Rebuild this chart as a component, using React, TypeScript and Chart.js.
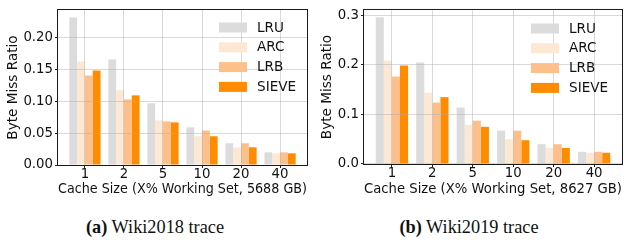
import React, { useEffect, useRef } from "react";
import { Chart, registerables } from "chart.js";

Chart.register(...registerables);

// ---------- data ----------
const cacheSizes = ["1", "2", "5", "10", "20", "40"];
const algorithms = ["LRU", "ARC", "LRB", "SIEVE"];
const algorithmColors = ["#dcdcdc", "#fde8d4", "#fdc08a", "#ff8c00"];

const wiki2018LRU = [0.231, 0.165, 0.0965, 0.059, 0.034, 0.0198];
const wiki2018ARC = [0.162, 0.117, 0.0698, 0.045, 0.0277, 0.0183];
const wiki2018LRB = [0.14, 0.1027, 0.0683, 0.054, 0.034, 0.0198];
const wiki2018SIEVE = [0.148, 0.109, 0.0667, 0.045, 0.0277, 0.0183];

const wiki2019LRU = [0.296, 0.205, 0.114, 0.0673, 0.04, 0.0246];
const wiki2019ARC = [0.209, 0.1436, 0.079, 0.05, 0.0324, 0.0227];
const wiki2019LRB = [0.1766, 0.124, 0.0874, 0.0673, 0.04, 0.0246];
const wiki2019SIEVE = [0.199, 0.135, 0.075, 0.048, 0.0324, 0.0227];

const wiki2018XTitle = "Cache Size (X% Working Set, 5688 GB)";
const wiki2019XTitle = "Cache Size (X% Working Set, 8627 GB)";
const yTitle = "Byte Miss Ratio";
const wiki2018YStep = 0.05;
const wiki2019YStep = 0.1;

const FONT = "'DejaVu Sans', 'Noto Sans', sans-serif";
const TEXT = "#111111";

// ---------- plugins ----------
const framePlugin = {
  id: "axesFrame",
  afterDraw(chart: any) {
    const { ctx, chartArea } = chart;
    ctx.save();
    ctx.strokeStyle = "#1a1a1a";
    ctx.lineWidth = 1;
    ctx.strokeRect(
      chartArea.left - 0.5,
      chartArea.top - 0.5,
      chartArea.right - chartArea.left + 1,
      chartArea.bottom - chartArea.top + 1
    );
    ctx.restore();
  },
};

const insideLegendPlugin = {
  id: "insideLegend",
  afterDraw(chart: any, _args: any, opts: any) {
    const { ctx, chartArea } = chart;
    const x0 = chartArea.right - opts.dx;
    let y = chartArea.top + opts.dy;
    ctx.save();
    ctx.font = `13.6px ${FONT}`;
    ctx.textBaseline = "middle";
    ctx.textAlign = "left";
    chart.data.datasets.forEach((ds: any) => {
      ctx.fillStyle = ds.backgroundColor;
      ctx.fillRect(x0, y - 5, 28, 10);
      ctx.fillStyle = TEXT;
      ctx.fillText(ds.label, x0 + 38, y + 0.5);
      y += 19.8;
    });
    ctx.restore();
  },
};

type Panel = {
  series: number[][];
  xTitle: string;
  yStep: number;
  yDecimals: number;
  padding: { top: number; right: number; left: number; bottom: number };
  yWidth: number;
  xHeight: number;
  yTitlePad: number;
  legendDx: number;
  legendDy: number;
};

function BarPanel({ panel }: { panel: Panel }) {
  const ref = useRef<HTMLCanvasElement | null>(null);

  useEffect(() => {
    if (!ref.current) return;
    const allValues = panel.series.flat();
    const yMax = Math.max(...allValues) * 1.05;
    const datasets = panel.series.map((vals, k) => ({
      label: algorithms[k],
      data: vals.map((v, i) => ({ x: i, y: v })),
      backgroundColor: algorithmColors[k],
      borderWidth: 0,
      categoryPercentage: 0.8,
      barPercentage: 1.0,
    }));
    const chart = new Chart(ref.current, {
      type: "bar",
      data: { datasets },
      plugins: [insideLegendPlugin, framePlugin],
      options: {
        animation: false,
        responsive: false,
        events: [],
        layout: { padding: panel.padding },
        plugins: {
          legend: { display: false },
          tooltip: { enabled: false },
          insideLegend: { dx: panel.legendDx, dy: panel.legendDy },
        } as any,
        scales: {
          x: {
            type: "linear",
            min: -0.69,
            max: cacheSizes.length - 1 + 0.69,
            offset: false,
            afterBuildTicks: (scale: any) => {
              scale.ticks = cacheSizes.map((_, i) => ({ value: i }));
            },
            afterFit: (scale: any) => {
              scale.height = panel.xHeight;
            },
            grid: {
              offset: false,
              z: 1,
              color: "rgba(170,170,170,0.45)",
              lineWidth: 1,
              tickColor: "#222",
              tickLength: 3,
              drawTicks: true,
            },
            border: { display: false },
            ticks: {
              autoSkip: false,
              maxRotation: 0,
              padding: -1,
              color: TEXT,
              font: { family: FONT, size: 13.3, lineHeight: 1.2 },
              callback: (v: any) => cacheSizes[Math.round(Number(v))] ?? "",
            },
            title: {
              display: true,
              text: panel.xTitle,
              color: TEXT,
              font: { family: FONT, size: 13.6, lineHeight: 1.2 },
              padding: { top: 0, bottom: 2.5 },
            },
          },
          y: {
            type: "linear",
            min: 0,
            max: yMax,
            afterFit: (scale: any) => {
              scale.width = panel.yWidth;
            },
            grid: {
              z: 1,
              color: "rgba(170,170,170,0.45)",
              lineWidth: 1,
              tickColor: "#222",
              tickLength: 3,
              drawTicks: true,
            },
            border: { display: false },
            ticks: {
              stepSize: panel.yStep,
              includeBounds: false,
              padding: 2,
              color: TEXT,
              font: { family: FONT, size: 13.3, lineHeight: 1.2 },
              callback: (v: any) => Number(v).toFixed(panel.yDecimals),
            },
            title: {
              display: true,
              text: yTitle,
              color: TEXT,
              font: { family: FONT, size: 13.6, lineHeight: 1.2 },
              padding: { top: panel.yTitlePad, bottom: 0 },
            },
          },
        },
      } as any,
    });
    return () => chart.destroy();
  }, [panel]);

  return <canvas ref={ref} width={312} height={200} style={{ display: "block", width: 312, height: 200 }} />;
}

const leftPanel: Panel = {
  series: [wiki2018LRU, wiki2018ARC, wiki2018LRB, wiki2018SIEVE],
  xTitle: wiki2018XTitle,
  yStep: wiki2018YStep,
  yDecimals: 2,
  padding: { top: 10, right: 5, left: 0, bottom: 0 },
  yWidth: 58,
  xHeight: 35,
  yTitlePad: 5.5,
  legendDx: 88,
  legendDy: 17.5,
};

const rightPanel: Panel = {
  series: [wiki2019LRU, wiki2019ARC, wiki2019LRB, wiki2019SIEVE],
  xTitle: wiki2019XTitle,
  yStep: wiki2019YStep,
  yDecimals: 1,
  padding: { top: 4, right: 2, left: 0, bottom: 0 },
  yWidth: 52,
  xHeight: 36,
  yTitlePad: 7.5,
  legendDx: 91,
  legendDy: 18.5,
};

const captionStyle: React.CSSProperties = {
  position: "absolute",
  top: 218,
  width: 312,
  textAlign: "center",
  fontFamily: "'Liberation Serif', 'DejaVu Serif', serif",
  fontSize: 18.3,
  lineHeight: "18px",
  color: "#111",
  whiteSpace: "nowrap",
};

export default function App() {
  return (
    <div style={{ position: "absolute", left: 0, top: 0, width: 624, height: 240, background: "#fff", overflow: "hidden" }}>
      <div style={{ position: "absolute", left: 0, top: 0 }}>
        <BarPanel panel={leftPanel} />
      </div>
      <div style={{ position: "absolute", left: 312, top: 0 }}>
        <BarPanel panel={rightPanel} />
      </div>
      <div style={{ ...captionStyle, left: -1 }}>
        <b>(a)</b> Wiki2018 trace
      </div>
      <div style={{ ...captionStyle, left: 313 }}>
        <b>(b)</b> Wiki2019 trace
      </div>
    </div>
  );
}
